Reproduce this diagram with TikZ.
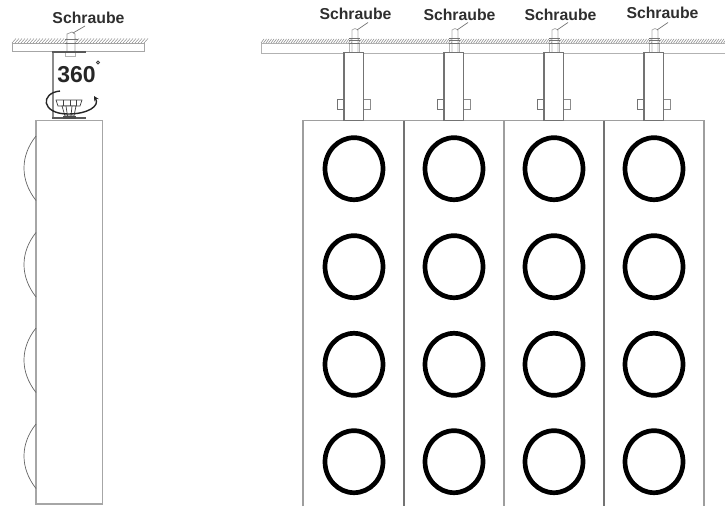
\documentclass[tikz,border=0pt]{standalone}
\usepackage{fontspec}
\setmainfont{Liberation Sans}
\usetikzlibrary{arrows.meta}
\tikzset{
 lbl/.style={font=\fontsize{15.8}{18}\selectfont\bfseries,text=black!82,inner sep=0pt},
 frame/.style={draw=black!35,line width=1.3pt},
 panel/.style={draw=black!38,line width=1.1pt},
 panel dark/.style={draw=black!55,line width=1.3pt},
 thin part/.style={draw=black!55,line width=.7pt},
 ring/.style={draw=black,line width=4.7pt},
 hatch/.style={draw=black!50,line width=.45pt},
 bracket/.style={draw=black!55,line width=1.2pt,fill=white},
}
\begin{document}
\begin{tikzpicture}[x=1pt,y=-1pt]
\useasboundingbox (0,0) rectangle (725,506);
% ---- left view: ceiling
\draw[thin part,draw=black!35,line width=.9pt] (12,43) rectangle (144,51.5);
\foreach \x in {12,15,...,145} \draw[hatch] (\x,43) -- (\x+4,38.5);
% screw
\draw[thin part,draw=black!40,fill=white] (67,52) -- (67,34) -- (72,32) -- (75,34) -- (75,52);
\draw[thin part] (65,39) -- (78,39) (65,43) -- (78,43);
\draw[thin part,draw=black!30] (65,52) rectangle (75,56);
\node[lbl] (sl) at (88.5,18) {Schraube};
\coordinate (sls) at (73,33);
\draw[thin part] (sls) -- (85,26);
% bracket
\draw[draw=black!45,line width=2.4pt] (53,52) -- (53,119);
\draw[draw=black!65,line width=1.3pt] (52,52) -- (86,52);
\draw[draw=black!65,line width=1.3pt] (52,118) -- (86,118);
\node[font=\fontsize{23}{26}\selectfont\bfseries,text=black!85,inner sep=0pt] (deg) at (76.5,75) {360};
\draw[black!75,line width=1pt] (98,62.5) circle (1.5);
% knob
\draw[thin part,draw=black!75,fill=white] (56,100) -- (82,100) -- (80,106) -- (58,106) -- cycle;
\draw[thin part,draw=black!75] (63,100) -- (63,106) (70,100) -- (70,106) (76,100) -- (76,106);
\draw[thin part,draw=black!75,fill=white] (62,106) -- (76,106) -- (74,116) -- (65,116) -- cycle;
\draw[thin part,draw=black!75] (66,106) -- (67.5,116) (72,106) -- (71,116);
\fill[black!70] (63,116) rectangle (76,118.5);
% rotation arrow
\draw[black!85,line width=1.4pt,-{Stealth[length=5pt,width=5pt]}] (60,91) .. controls (40,93) and (41,114) .. (68,114) .. controls (88,114) and (100,106) .. (94,96);
% body
\draw[frame] (36,120.5) rectangle (102.5,504);
\foreach \y in {136,232.5,328,424}
  \draw[draw=black!60,line width=.7pt] (36,\y) .. controls (20,\y+20) and (20,\y+44) .. (36,\y+64.5);
% ---- front view: ceiling
\draw[thin part,draw=black!30,line width=.9pt] (725,43.5) -- (261,43.5) -- (261,53) -- (725,53);
\foreach \x in {261,263.5,...,725} \draw[hatch,draw=black!55] (\x,43) -- (\x+3,39);
% panels
\draw[panel] (303,506) -- (303,120.5) -- (704,120.5) -- (704,506);
\draw[panel dark] (404,120.5) -- (404,506);
\draw[panel] (504,120.5) -- (504,506);
\draw[panel dark] (604,120.5) -- (604,506);
% brackets, screws and labels
\foreach \bx/\lx/\ly in {344/355.5/14,444/459.5/15,544/560.5/14.5,644/662.5/13}{
  \draw[thin part,draw=black!30,fill=white] (\bx+8,52) -- (\bx+8,30) -- (\bx+11,28.5) -- (\bx+14,30) -- (\bx+14,52);
  \draw[thin part,draw=black!55,line width=.5pt] (\bx+5,38) -- (\bx+16,38) (\bx+5,40.5) -- (\bx+16,40.5) (\bx+5,43) -- (\bx+16,43);
  \draw[thin part,draw=black!30] (\bx+5.5,44) -- (\bx+5.5,52) (\bx+15.5,44) -- (\bx+15.5,52);
  \draw[thin part,line width=1pt,fill=white] (\bx-7,99.5) rectangle (\bx,109);
  \draw[thin part,line width=1pt,draw=black!45,fill=white] (\bx+19.5,99.5) rectangle (\bx+26,109);
  \draw[bracket] (\bx,52.5) rectangle (\bx+19.5,120.5);
  \node[lbl] at (\lx,\ly) {Schraube};
  \draw[thin part] (\bx+13,30) -- (\bx+24,22.5);
}
% lamps
\foreach \x in {354,454,554,654}
  \foreach \y in {168.7,266.7,364.3,461.7}
    \draw[ring] (\x,\y) ellipse (29 and 31);
\end{tikzpicture}
\end{document}
